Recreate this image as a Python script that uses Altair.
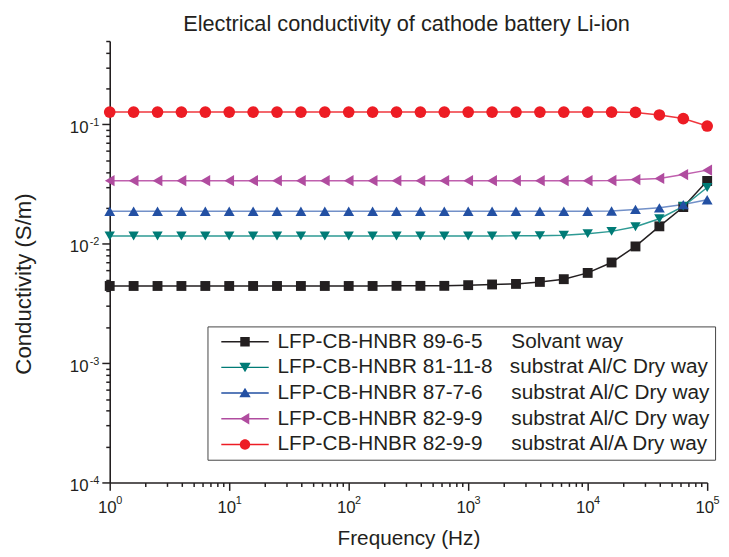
import altair as alt
import pandas as pd

# ---------------- data ----------------
freq = [1, 1.585, 2.512, 3.981, 6.310, 10, 15.85, 25.12, 39.81, 63.10,
        100, 158.5, 251.2, 398.1, 631.0, 1000, 1585, 2512, 3981, 6310,
        10000, 15850, 25120, 39810, 63100, 100000]

black = [0.00443, 0.00443, 0.00443, 0.00443, 0.00443, 0.00443, 0.00443, 0.00443, 0.00443, 0.00443,
         0.00443, 0.00443, 0.00444, 0.00444, 0.00444, 0.00450, 0.00456, 0.00461, 0.00479, 0.00505,
         0.00570, 0.00697, 0.00950, 0.01400, 0.02030, 0.03360]
teal = [0.01164, 0.01164, 0.01164, 0.01164, 0.01164, 0.01164, 0.01164, 0.01164, 0.01164, 0.01164,
        0.01164, 0.01164, 0.01164, 0.01164, 0.01164, 0.01164, 0.01164, 0.01165, 0.01170, 0.01180,
        0.01216, 0.01270, 0.01390, 0.01620, 0.02060, 0.02960]
blue = [0.01874, 0.01874, 0.01874, 0.01874, 0.01874, 0.01874, 0.01874, 0.01874, 0.01874, 0.01874,
        0.01874, 0.01874, 0.01874, 0.01874, 0.01874, 0.01874, 0.01874, 0.01874, 0.01874, 0.01874,
        0.01874, 0.01880, 0.01940, 0.02000, 0.02130, 0.02340]
magenta = [0.0338, 0.0338, 0.0338, 0.0338, 0.0338, 0.0338, 0.0338, 0.0338, 0.0338, 0.0338,
           0.0338, 0.0338, 0.0338, 0.0338, 0.0338, 0.0338, 0.0338, 0.0338, 0.0338, 0.0338,
           0.0338, 0.0339, 0.0345, 0.0353, 0.0380, 0.0414]
red = [0.127, 0.127, 0.127, 0.127, 0.127, 0.127, 0.127, 0.127, 0.127, 0.127,
       0.127, 0.127, 0.127, 0.127, 0.127, 0.127, 0.127, 0.127, 0.127, 0.127,
       0.127, 0.127, 0.126, 0.120, 0.112, 0.097]

NB = "\u00a0"
samples = ["LFP-CB-HNBR 89-6-5", "LFP-CB-HNBR 81-11-8", "LFP-CB-HNBR 87-7-6",
           "LFP-CB-HNBR 82-9-9", "LFP-CB-HNBR 82-9-9"]
ways = ["Solvant way", "substrat Al/C Dry way", "substrat Al/C Dry way",
        "substrat Al/C Dry way", "substrat Al/A Dry way"]
gaps = [5, 3, 5, 5, 5]
names = [s + NB * g + w + NB * 2 for s, g, w in zip(samples, gaps, ways)]
values = [black, teal, blue, magenta, red]

# tick labels: base "10" plus exponent drawn as a superscript
x_major = [1, 10, 100, 1000, 10000, 100000]
x_exponents = ["0", "1", "2", "3", "4", "5"]
y_major = [0.0001, 0.001, 0.01, 0.1]
y_exponents = ["-4", "-3", "-2", "-1"]
tick_base = "10"
x_minor = [m * 10 ** d for d in range(0, 5) for m in range(2, 10)]
y_minor = [m * 10.0 ** d for d in range(-4, -1) for m in range(2, 10)] + [0.2, 0.3, 0.4, 0.5]

marker_colors = ["#231f20", "#007b76", "#2350a3", "#b04c9f", "#ed1c24"]
line_colors = ["#231f20", "#2e9a94", "#7290c8", "#c060ae", "#f0373e"]
shapes = ["square", "triangle-down", "triangle-up", "triangle-left", "circle"]
sizes = [100, 140, 140, 140, 128]

BAR = "M-1,-0.03H1V0.03H-1Z "
legend_paths = [
    BAR + "M-0.2,-0.2H0.2V0.2H-0.2Z",
    BAR + "M-0.24,-0.2L0.24,-0.2L0,0.2Z",
    BAR + "M0,-0.22L0.24,0.18L-0.24,0.18Z",
    BAR + "M-0.22,0L0.18,-0.24L0.18,0.24Z",
    BAR + "M-0.22,0A0.22,0.22 0 1,1 0.22,0A0.22,0.22 0 1,1 -0.22,0Z",
]

rows = []
for n, vals in zip(names, values):
    for f, v in zip(freq, vals):
        rows.append({"freq": f, "cond": v, "series": n})
df = pd.DataFrame(rows)

FONT = "Liberation Sans"
INK = "#231f20"


def arr(lst):
    return "[" + ",".join("'" + s + "'" for s in lst) + "]"


xs = alt.Scale(type="log", domain=[1, 100000], nice=False)
ys = alt.Scale(type="log", domain=[0.0001, 0.5], nice=False)

base = alt.Chart(df)

lines = base.mark_line(strokeWidth=1.5).encode(
    x=alt.X("freq:Q", scale=xs, axis=alt.Axis(
        values=x_major, labelExpr="'" + tick_base + "'",
        title="Frequency (Hz)", tickSize=8, labelPadding=22, labelBaseline="alphabetic",
        labelAlign="center", labelOffset=-3, labelFlush=False, labelOverlap=False,
        labelFontSize=17, titleY=63, titleBaseline="alphabetic", grid=False)),
    y=alt.Y("cond:Q", scale=ys, axis=alt.Axis(
        values=y_major, labelExpr="'" + tick_base + "'",
        title="Conductivity (S/m)", tickSize=8, labelPadding=14, labelFontSize=17,
        labelBaseline="alphabetic", labelOffset=8, labelAlign="right",
        labelFlush=False, labelOverlap=False, titleX=-80.5, titleY=245.5,
        titleBaseline="alphabetic", titleFontSize=22.5, grid=False)),
    color=alt.Color("series:N", scale=alt.Scale(domain=names, range=line_colors), legend=None),
)

points = base.mark_point(filled=True, opacity=1).encode(
    x=alt.X("freq:Q", scale=xs, axis=alt.Axis(
        values=x_minor, labels=False, domain=False, tickSize=4, orient="bottom",
        title=None, grid=False)),
    y=alt.Y("cond:Q", scale=ys, axis=alt.Axis(
        values=y_minor, labels=False, domain=False, tickSize=4, orient="left",
        title=None, grid=False)),
    color=alt.Color("series:N", scale=alt.Scale(domain=names, range=marker_colors), legend=None),
    shape=alt.Shape("series:N", scale=alt.Scale(domain=names, range=shapes), legend=None),
    size=alt.Size("series:N", scale=alt.Scale(domain=names, range=sizes), legend=None),
)

leg = alt.Legend(
    title=None, orient="none", legendX=99, legendY=289, padding=4,
    strokeColor="#444444", fillColor="white", symbolSize=2304, symbolStrokeWidth=0,
    clipHeight=23, rowPadding=3, symbolOffset=10, labelOffset=9,
    labelFont=FONT, labelFontSize=21, labelColor=INK, labelLimit=0,
)

# legend + superscript exponent axes (no visible data of its own)
legend_layer = base.mark_point(filled=True, opacity=1).encode(
    x=alt.X("freq:Q", scale=xs, axis=alt.Axis(
        values=x_major, labelExpr=arr(x_exponents) + "[round(log(datum.value)/LN10)]",
        ticks=False, domain=False, orient="bottom", title=None, grid=False,
        labelAlign="left", labelOffset=6, labelPadding=21, labelBaseline="alphabetic",
        labelFontSize=11, labelFlush=False, labelOverlap=False)),
    y=alt.Y("cond:Q", scale=ys, axis=alt.Axis(
        values=y_major, labelExpr=arr(y_exponents) + "[round(log(datum.value)/LN10)+4]",
        ticks=False, domain=False, orient="left", title=None, grid=False,
        labelAlign="right", labelPadding=11, labelBaseline="alphabetic", labelOffset=1,
        labelFontSize=11, labelFlush=False, labelOverlap=False)),
    color=alt.Color("series:N", scale=alt.Scale(domain=names, range=marker_colors), legend=leg),
    shape=alt.Shape("series:N", scale=alt.Scale(domain=names, range=legend_paths), legend=leg),
).transform_filter("datum.freq < 0")

chart = alt.layer(lines, points, legend_layer).resolve_scale(
    x="independent", y="independent", color="independent", shape="independent", size="independent"
).properties(
    width=605, height=447,
    autosize=alt.AutoSizeParams(type="none"),
    padding={"left": 103, "top": 30, "right": 14, "bottom": 68},
    title=alt.TitleParams(
        "Electrical conductivity of cathode battery Li-ion", fontSize=22, font=FONT,
        fontWeight="normal", color=INK, anchor="middle", frame="group", offset=13,
        baseline="alphabetic", dx=-2, dy=26),
).configure_view(stroke=None).configure_axis(
    domainColor=INK, domainWidth=1.6, tickColor=INK, tickWidth=1.5,
    labelFont=FONT, labelColor=INK, titleFont=FONT, titleColor=INK,
    titleFontSize=21, titleFontWeight="normal",
)

chart.save("out.html", embed_options={"renderer": "svg", "actions": False})
